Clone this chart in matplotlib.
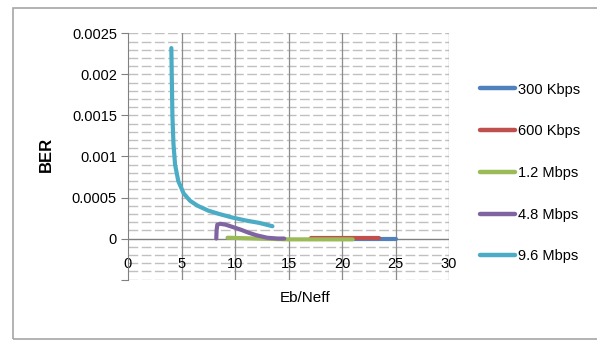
import matplotlib
matplotlib.use("Agg")
import matplotlib.pyplot as plt
import matplotlib.patches as patches
import numpy as np

plt.rcParams["font.family"] = ["Liberation Sans Narrow", "Liberation Sans", "DejaVu Sans"]

# Series data
labels = ["300 Kbps", "600 Kbps", "1.2 Mbps", "4.8 Mbps", "9.6 Mbps"]
colors = ["#4F81BD", "#C0504D", "#9BBB59", "#8064A2", "#4BACC6"]

x_300k = [21.0, 23.0, 25.0]
y_300k = [0.0, 0.0, 0.0]

x_600k = [17.1, 20.0, 23.5]
y_600k = [0.00001, 0.00001, 0.00001]

x_1_2m = [9.3, 12.0, 15.0, 18.0, 21.0]
y_1_2m = [0.00001, 0.0, -0.00001, -0.00001, -0.00001]

x_4_8m = [8.25, 8.28, 8.35, 8.6, 9.1, 9.8, 10.5, 11.3, 12.0, 13.0, 14.0, 14.6]
y_4_8m = [0.0, 0.0001, 0.00017, 0.00018, 0.00017, 0.00014, 0.00011, 0.00007, 0.00004, 0.00001, 0.0, 0.0]

x_9_6m = [4.05, 4.1, 4.15, 4.25, 4.4, 4.7, 5.2, 5.8, 6.5, 7.5, 8.5, 9.75, 11.0, 12.3, 13.5]
y_9_6m = [0.00232, 0.0019, 0.0015, 0.00115, 0.0009, 0.0007, 0.00055, 0.00046, 0.0004,
          0.00034, 0.0003, 0.000256, 0.00022, 0.00019, 0.00015]

series_x = [x_300k, x_600k, x_1_2m, x_4_8m, x_9_6m]
series_y = [y_300k, y_600k, y_1_2m, y_4_8m, y_9_6m]

x_ticks = [0, 5, 10, 15, 20, 25, 30]
y_ticks = [-0.0005, 0, 0.0005, 0.001, 0.0015, 0.002, 0.0025]
y_tick_labels = ["", "0", "0.0005", "0.001", "0.0015", "0.002", "0.0025"]

W, H = 597, 341
fig = plt.figure(figsize=(W / 100, H / 100), dpi=100)

# outer chart frame
frame = patches.Rectangle((13 / W, 1 - 339 / H), 1.0, (339 - 8) / H,
                          transform=fig.transFigure, fill=False,
                          edgecolor="#A6A6A6", linewidth=1.2)
fig.patches.append(frame)

ax = fig.add_axes([128 / W, 1 - 279.6 / H, 321 / W, (279.6 - 33.3) / H])
ax.set_xlim(0, 30)
ax.set_ylim(-0.0005, 0.0025)

# dashed minor horizontal grid every 0.0001
for yv in np.arange(-5, 26) * 0.0001:
    if abs(yv) < 1e-9:
        continue
    ax.axhline(yv, color="#C0C0C0", linewidth=1.0, linestyle=(0, (7, 2.5)), zorder=1)
# vertical major grid
for xv in x_ticks[1:]:
    ax.axvline(xv, color="#8C8C8C", linewidth=0.9, zorder=1)
# horizontal axis line at zero
ax.axhline(0, color="#7F7F7F", linewidth=1.0, zorder=2)

for xs, ys, c, lab in zip(series_x, series_y, colors, labels):
    ax.plot(xs, ys, color=c, linewidth=3.0, label=lab, zorder=3,
            solid_capstyle="round", solid_joinstyle="round")

for s in ["top", "right", "bottom"]:
    ax.spines[s].set_visible(False)
ax.spines["left"].set_color("#808080")

ax.set_yticks(y_ticks)
ax.set_yticklabels(y_tick_labels)
ax.tick_params(axis="y", length=5, color="#808080", labelsize=10.5, pad=3)
ax.set_xticks(x_ticks)
ax.set_xticklabels([str(v) for v in x_ticks])
ax.tick_params(axis="x", length=0, labelsize=10.5, pad=-16)

fig.text(46 / W, 1 - 154 / H, "BER", rotation=90, fontsize=12, fontweight="bold",
         ha="center", va="center", family=["Liberation Sans", "DejaVu Sans"])
fig.text(305 / W, 1 - 298 / H, "Eb/Neff", fontsize=11, ha="center", va="center")

leg = fig.legend(loc="center left", bbox_to_anchor=(480 / W, 1 - 173 / H),
                 frameon=False, fontsize=10.5, handlelength=2.4, handletextpad=0.2,
                 labelspacing=1.9, borderpad=0, borderaxespad=0)
for line in leg.get_lines():
    line.set_linewidth(3.2)

fig.savefig("out.png", dpi=100)
